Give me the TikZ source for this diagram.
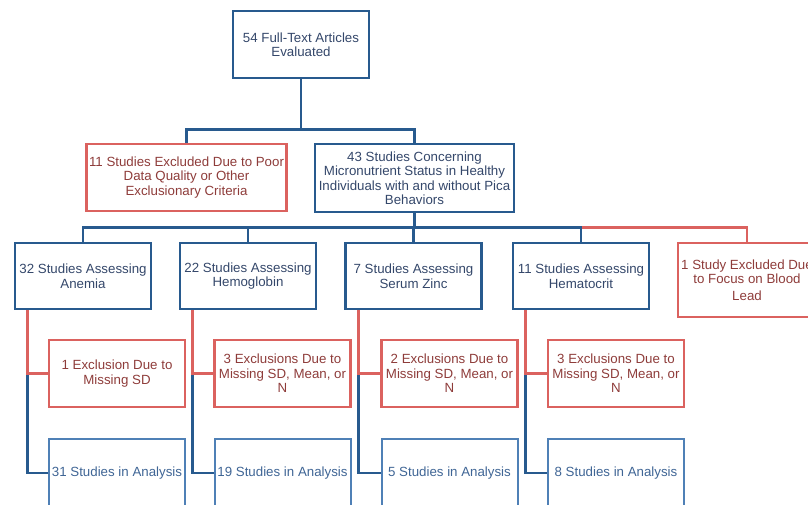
\documentclass[tikz,border=0pt]{standalone}
\usepackage{fontspec}
\setmainfont{Liberation Sans}
\usepackage{xcolor}
\definecolor{cMain}{HTML}{285A8E}
\definecolor{cMainText}{HTML}{34476A}
\definecolor{cLight}{HTML}{4F80B6}
\definecolor{cLightText}{HTML}{3F6595}
\definecolor{cBad}{HTML}{DB625F}
\definecolor{cBadText}{HTML}{8E3C3A}
\usepackage{tikz}
\usetikzlibrary{calc}
\tikzset{
  node-box/.style={draw=cMain,line width=2.6pt,text=cMainText,
    minimum width=136pt,minimum height=67pt,inner sep=1pt,align=center,
    font=\fontsize{13.3}{14.5}\selectfont},
  node-bad/.style={node-box,draw=cBad,text=cBadText},
  node-result/.style={node-box,draw=cLight,line width=2pt,text=cLightText},
  line-main/.style={draw=cMain,line width=2.6pt},
  line-bad/.style={draw=cBad,line width=2.6pt},
}
\begin{document}
\begin{tikzpicture}[x=1pt,y=-1pt]
  \useasboundingbox (0,0) rectangle (808,504);
  % screening
  \node[node-box] (all) at (301,44.5) {54 Full-Text Articles\\Evaluated};
  \node[node-bad,minimum width=200pt] (poor) at (186.5,177.5)
    {11 Studies Excluded Due to Poor\\Data Quality or Other\\Exclusionary Criteria};
  \node[node-box,minimum width=199pt,minimum height=68pt] (pica) at (414.5,178)
    {43 Studies Concerning\\Micronutrient Status in Healthy\\Individuals with and without Pica\\Behaviors};
  % outcomes
  \node[node-box,minimum height=66pt] (row1) at (83,276) {32 Studies Assessing\\Anemia};
  \node[node-box,minimum height=66pt] (row2) at (248,276) {22 Studies Assessing\\Hemoglobin};
  \node[node-box,minimum height=66pt] (row3) at (413.5,276) {7 Studies Assessing\\Serum Zinc};
  \node[node-box,minimum height=66pt] (row4) at (581,276) {11 Studies Assessing\\Hematocrit};
  \node[node-bad,minimum width=138pt,minimum height=74pt] (lead) at (747,280)
    {1 Study Excluded Due\\to Focus on Blood\\[2pt]Lead};
  % exclusions
  \node[node-bad] (exc1) at (117,373.5) {1 Exclusion Due to\\Missing SD};
  \node[node-bad] (exc2) at (282.5,373.5) {3 Exclusions Due to\\Missing SD, Mean, or\\N};
  \node[node-bad] (exc3) at (449.5,373.5) {2 Exclusions Due to\\Missing SD, Mean, or\\N};
  \node[node-bad] (exc4) at (616,373.5) {3 Exclusions Due to\\Missing SD, Mean, or\\N};
  % analysis
  \node[node-result,minimum height=68pt] (res1) at (117,473) {31 Studies in Analysis};
  \node[node-result,minimum height=68pt] (res2) at (282.5,473) {19 Studies in Analysis};
  \node[node-result,minimum height=68pt] (res3) at (449.5,473) {5 Studies in Analysis};
  \node[node-result,minimum height=68pt] (res4) at (616,473) {8 Studies in Analysis};

  \draw[line-main] (all.south) -- ++(0,50) coordinate (split);
  \draw[line-main] (poor.north) |- (split) -| (pica.north);
  \draw[line-main] (pica.south) -- ++(0,14) coordinate (fork);
  \draw[line-bad] (row4.north |- fork) -| (lead.north);
  \draw[line-main] (row1.north) |- (fork) -| (row4.north);
  \draw[line-main] (row2.north) -- (row2.north |- fork);
  \draw[line-main] (row3.north) -- (row3.north |- fork);
  \foreach \c in {1,...,4} {
    \draw[line-main] (res\c.west) -| ($(row\c.south west)+(14,0)$);
    \draw[line-bad] ($(row\c.south west)+(14,0)$) |- (exc\c.west);
  }
\end{tikzpicture}
\end{document}
